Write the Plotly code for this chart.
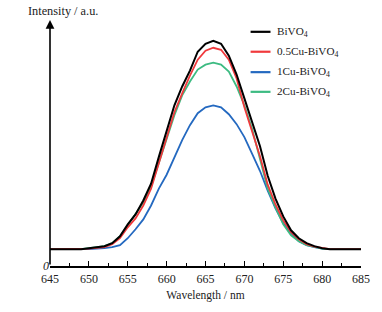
import plotly.graph_objects as go

wavelength = [645, 647, 649, 650, 652, 653, 654, 655, 656, 657, 658, 659, 660, 661, 662, 663,
              664, 665, 666, 667, 668, 669, 670, 671, 672, 673, 674, 675, 676, 677, 678, 679,
              680, 681, 685]

bivo4 = [17, 17, 17, 18, 20, 23, 30, 42, 52, 66, 83, 110, 136, 162, 181, 197,
         216, 224, 227, 224, 212, 193, 169, 146, 121, 91, 68, 50, 36, 28, 23, 20,
         18, 17, 17]
cu05 = [17, 17, 17, 17.5, 19, 22, 28, 39, 48, 61, 78, 103, 129, 155, 174, 192,
        208, 217, 220, 218, 208, 189, 160, 136, 111, 82, 62, 46, 34, 27, 22, 19.5,
        18, 17, 17]
cu1 = [17, 17, 17, 17, 18, 19, 21, 28, 37, 47, 61, 78, 92, 109, 127, 142,
       154, 160, 162, 160, 153, 143, 130, 113, 96, 76, 58, 43, 33, 25, 21, 19,
       17.5, 17, 17]
cu2 = [17, 17, 17, 18, 20, 23, 30, 41, 52, 64, 80, 104, 127, 152, 172, 186,
       198, 203, 205, 203, 196, 181, 162, 138, 108, 78, 59, 42, 31, 25, 21, 19,
       17.5, 17, 17]

names = ["BiVO<sub>4</sub>", "0.5Cu-BiVO<sub>4</sub>", "1Cu-BiVO<sub>4</sub>", "2Cu-BiVO<sub>4</sub>"]
colors = ["#000000", "#f0393c", "#2469c0", "#3dbb82"]
series = [bivo4, cu05, cu1, cu2]

FONT = "Liberation Serif"
TXT = "#222222"

fig = go.Figure()
# draw order: blue, green, red, black on top
for idx in [2, 3, 1, 0]:
    fig.add_trace(go.Scatter(
        x=wavelength, y=series[idx], mode="lines", name=names[idx],
        line=dict(color=colors[idx], width=2.0 if idx == 0 else 1.8),
        showlegend=False, hoverinfo="skip"))

fig.update_layout(
    width=382, height=312,
    margin=dict(l=50, r=19, t=20, b=44),
    paper_bgcolor="white", plot_bgcolor="white",
    font=dict(family=FONT, color=TXT, size=11),
    showlegend=False,
)

fig.update_xaxes(
    range=[645, 685], showline=True, linecolor="black", linewidth=1.6,
    ticks="inside", ticklen=5, tickwidth=1.4, tickcolor="black",
    tickvals=[645, 650, 655, 660, 665, 670, 675, 680, 685],
    tickfont=dict(family=FONT, size=12, color=TXT),
    ticklabelstandoff=1,
    minor=dict(ticks="inside", ticklen=3, tickwidth=1.2, tickcolor="black", dtick=2.5, tick0=645),
    showgrid=False, zeroline=False,
    title=dict(text="Wavelength / nm", font=dict(family=FONT, size=11.5, color=TXT), standoff=6),
)
fig.update_yaxes(
    range=[0, 248], showline=False, showgrid=False, zeroline=False,
    tickvals=[0], ticktext=["<i>0</i>"], ticks="",
    tickfont=dict(family=FONT, size=12, color=TXT),
)

# y axis drawn as arrow
fig.add_annotation(x=0, y=1.0, xref="x domain", yref="y domain", ax=0, ay=0,
                   axref="x domain", ayref="y domain",
                   showarrow=True, arrowhead=2, arrowsize=1.1, arrowwidth=1.6, arrowcolor="black", text="")
fig.add_annotation(x=-0.078, y=1.036, xref="paper", yref="paper", xanchor="left", yanchor="middle",
                   text="Intensity / a.u.", showarrow=False,
                   font=dict(family=FONT, size=12.3, color=TXT))

# legend drawn manually
leg_y = [0.952, 0.871, 0.788, 0.708]
for i in range(4):
    fig.add_shape(type="line", xref="paper", yref="paper", x0=0.645, x1=0.709, y0=leg_y[i], y1=leg_y[i],
                  line=dict(color=colors[i], width=2.2))
    fig.add_annotation(x=0.722, y=leg_y[i], xref="paper", yref="paper", xanchor="left", yanchor="middle",
                       text=names[i], showarrow=False, font=dict(family=FONT, size=11.2, color=TXT))

# remove the page's default body margin so the figure fills the window
fig.write_html("out.html", config={"displayModeBar": False},
               post_script="document.body.style.margin='0px';")
